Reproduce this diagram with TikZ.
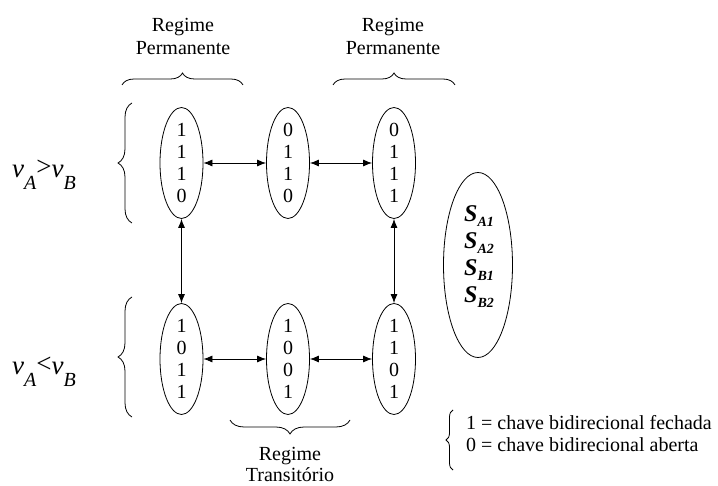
\documentclass[tikz,border=0pt]{standalone}
\usepackage{fontspec}
\setmainfont{Liberation Serif}
\usetikzlibrary{shapes.geometric,arrows.meta,decorations.pathreplacing}
\begin{document}
\begin{tikzpicture}[x=1pt,y=-1pt,
  state/.style={draw,ellipse,line width=0.8pt,minimum width=43pt,minimum height=111pt,
    inner xsep=0pt,inner ysep=-6pt,align=center,font=\fontsize{20}{22}\selectfont},
  link/.style={line width=0.8pt,{Latex[length=9pt,width=7pt]}-{Latex[length=9pt,width=7pt]}},
  curly/.style={decorate,decoration={brace,amplitude=#1},line width=0.8pt},
  caption/.style={align=center,font=\fontsize{20}{23}\selectfont,inner sep=0pt},
  cond/.style={anchor=base west,inner sep=0pt,font=\fontsize{27}{27}\selectfont\itshape},
]
\useasboundingbox (0,0) rectangle (718,486);

% switch states (S_A1, S_A2, S_B1, S_B2)
\node[state] (s1110) at (181.5,163) {1\\1\\1\\0};
\node[state] (s0110) at (288,163)   {0\\1\\1\\0};
\node[state] (s0111) at (394,163)   {0\\1\\1\\1};
\node[state] (s1011) at (181.5,359) {1\\0\\1\\1};
\node[state] (s1001) at (288,359)   {1\\0\\0\\1};
\node[state] (s1101) at (394,359)   {1\\1\\0\\1};

% transitions
\draw[link] (s1110) -- (s0110);
\draw[link] (s0110) -- (s0111);
\draw[link] (s1011) -- (s1001);
\draw[link] (s1001) -- (s1101);
\draw[link] (s1110) -- (s1011);
\draw[link] (s0111) -- (s1101);

% switch order
\node[draw,ellipse,line width=0.8pt,minimum width=69pt,minimum height=185pt,inner sep=0pt] (order) at (478,265) {};
\node[align=center,inner sep=0pt,font=\fontsize{24}{27}\selectfont\bfseries\itshape] (names) at (479,257)
  {S\raisebox{-5pt}{\fontsize{14}{14}\selectfont A1}\\
   S\raisebox{-5pt}{\fontsize{14}{14}\selectfont A2}\\
   S\raisebox{-5pt}{\fontsize{14}{14}\selectfont B1}\\
   S\raisebox{-5pt}{\fontsize{14}{14}\selectfont B2}};

% regime braces and captions
\draw[curly=12pt] (122,85) -- (243,85);
\draw[curly=12pt] (333,85) -- (455,85);
\draw[curly=14pt] (350,420) -- (230,420);
\node[caption] (perm1) at (183,36.6) {Regime\\Permanente};
\node[caption] (perm2) at (393,36.6) {Regime\\Permanente};
\node[caption,font=\fontsize{20}{21}\selectfont] (trans) at (290,464.5) {Regime\\Transitório};

% voltage conditions
\draw[curly=14pt] (132,223) -- (132,103);
\draw[curly=14pt] (132,417) -- (132,297);
\node[cond] (gt) at (12,178) {v\raisebox{-12pt}{\fontsize{20}{20}\selectfont A}\raisebox{2pt}{\upshape >}v\raisebox{-12pt}{\fontsize{20}{20}\selectfont B}};
\node[cond] (lt) at (12,375) {v\raisebox{-12pt}{\fontsize{20}{20}\selectfont A}\raisebox{2pt}{\upshape <}v\raisebox{-12pt}{\fontsize{20}{20}\selectfont B}};

% legend
\draw[curly=7pt] (453,470) -- (453,410);
\node[anchor=west,align=left,inner sep=0pt,font=\fontsize{20}{22}\selectfont] (legend) at (466,434)
  {1 = chave bidirecional fechada\\0 = chave bidirecional aberta};
\end{tikzpicture}
\end{document}
